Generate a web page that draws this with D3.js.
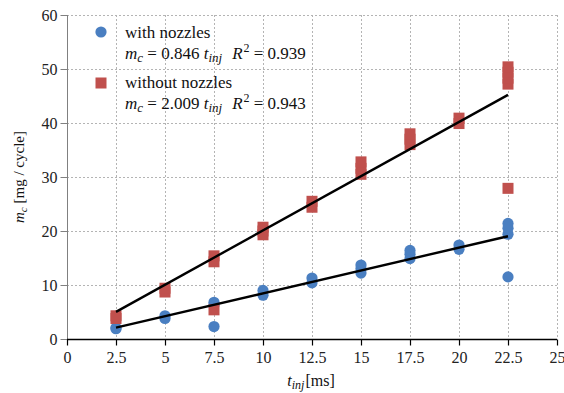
<!DOCTYPE html>
<html>
<head>
<meta charset="utf-8">
<script src="https://cdn.jsdelivr.net/npm/d3@7/dist/d3.min.js"></script>
<style>
  html, body { margin: 0; padding: 0; background: #fff; }
  svg { display: block; }
  svg text { font-family: "Liberation Serif", "Times New Roman", serif !important; }
</style>
</head>
<body>
<svg id="chart" width="564" height="393"></svg>
<script>
// Injection time [ms] vs. mass per cycle [mg/cycle]
const withNozzles = [
  [2.5, 1.9], [2.5, 2.1],
  [5, 3.8], [5, 4.3],
  [7.5, 6.3], [7.5, 6.8], [7.5, 2.3],
  [10, 8.1], [10, 9.0],
  [12.5, 10.4], [12.5, 11.3],
  [15, 12.2], [15, 13.0], [15, 13.7],
  [17.5, 14.9], [17.5, 15.7], [17.5, 16.4],
  [20, 16.6], [20, 17.4],
  [22.5, 19.4], [22.5, 20.5], [22.5, 21.4], [22.5, 11.5]
];
const withoutNozzles = [
  [2.5, 3.8], [2.5, 4.3],
  [5, 8.7], [5, 9.4],
  [7.5, 14.3], [7.5, 15.4], [7.5, 5.4],
  [10, 19.3], [10, 20.0], [10, 20.7],
  [12.5, 24.4], [12.5, 25.5],
  [15, 30.5], [15, 31.6], [15, 32.8],
  [17.5, 36.0], [17.5, 37.0], [17.5, 38.0],
  [20, 39.9], [20, 40.9],
  [22.5, 47.2], [22.5, 48.3], [22.5, 49.4], [22.5, 50.4], [22.5, 27.9]
];
const seriesNames = ["with nozzles", "without nozzles"];
const fitSlopes = [0.846, 2.009];
const fitR2 = ["0.939", "0.943"];
const fitRange = [2.5, 22.5];
const xTicks = [0, 2.5, 5, 7.5, 10, 12.5, 15, 17.5, 20, 22.5, 25];
const yTicks = [0, 10, 20, 30, 40, 50, 60];

const FONT = "Liberation Serif";
const colors = ["#4a7fc1", "#c0504d"];
const svg = d3.select("#chart");
const plotL = 67, plotR = 557, plotT = 15, plotB = 339;

const x = d3.scaleLinear().domain([0, 25]).range([plotL, plotR]);
const y = d3.scaleLinear().domain([0, 60]).range([plotB, plotT]);

// dotted grid
const grid = svg.append("g").attr("stroke", "#b4b4b4").attr("stroke-width", 1)
  .attr("stroke-dasharray", "2,2");
grid.selectAll("line.h").data(yTicks.filter(d => d > 0)).join("line")
  .attr("x1", plotL).attr("x2", plotR)
  .attr("y1", d => Math.round(y(d)) + 0.5).attr("y2", d => Math.round(y(d)) + 0.5);
grid.selectAll("line.v").data(xTicks.filter(d => d > 0)).join("line")
  .attr("y1", plotT).attr("y2", plotB)
  .attr("x1", d => Math.round(x(d)) + 0.5).attr("x2", d => Math.round(x(d)) + 0.5);

// y axis
const yAxis = svg.append("g").attr("transform", `translate(${plotL + 0.5},0)`)
  .call(d3.axisLeft(y).tickValues(yTicks).tickSize(7).tickPadding(3).tickFormat(d3.format("d")));
yAxis.attr("font-family", null);
yAxis.select(".domain").attr("stroke", "#808080").attr("d", `M0,${plotT}V${plotB}`);
yAxis.selectAll(".tick line").attr("stroke", "#808080");
yAxis.selectAll(".tick text").attr("font-size", 16).attr("fill", "#222")
  .style("font-family", FONT);

// x axis
const xAxis = svg.append("g").attr("transform", `translate(0,${plotB + 0.5})`)
  .call(d3.axisBottom(x).tickValues(xTicks).tickSize(6).tickPadding(6).tickFormat(d => String(d)));
xAxis.attr("font-family", null);
xAxis.select(".domain").attr("stroke", "#000").attr("stroke-width", 1.3).attr("d", `M${plotL},0H${plotR}`);
xAxis.selectAll(".tick line").attr("stroke", "#000").attr("stroke-width", 1.2);
xAxis.selectAll(".tick text").attr("font-size", 16).attr("fill", "#222")
  .style("font-family", FONT);

// markers
const r = 5.6, s = 11;
svg.append("g").selectAll("circle").data(withNozzles).join("circle")
  .attr("cx", d => x(d[0])).attr("cy", d => y(d[1])).attr("r", r)
  .attr("fill", colors[0]);
svg.append("g").selectAll("rect").data(withoutNozzles).join("rect")
  .attr("x", d => x(d[0]) - s / 2).attr("y", d => y(d[1]) - s / 2)
  .attr("width", s).attr("height", s).attr("fill", colors[1]);

// linear fits through the origin
const line = d3.line().x(d => x(d[0])).y(d => y(d[1]));
fitSlopes.forEach(k => {
  svg.append("path")
    .attr("d", line(fitRange.map(t => [t, k * t])))
    .attr("stroke", "#000").attr("stroke-width", 2.4).attr("fill", "none");
});

// legend
const legend = svg.append("g").attr("font-size", 17).attr("fill", "#111");
const legendRows = [38, 88];
legendRows.forEach((yy, i) => {
  if (i === 0) {
    legend.append("circle").attr("cx", 101).attr("cy", yy - 6).attr("r", r).attr("fill", colors[0]);
  } else {
    legend.append("rect").attr("x", 101 - s / 2).attr("y", yy - 5 - s / 2)
      .attr("width", s).attr("height", s).attr("fill", colors[1]);
  }
  legend.append("text").attr("x", 125).attr("y", yy).style("font-family", FONT).text(seriesNames[i]);
  const eq = legend.append("text").attr("x", 125).attr("y", yy + 21).style("font-family", FONT);
  eq.append("tspan").attr("font-style", "italic").text("m");
  eq.append("tspan").attr("font-style", "italic").attr("font-size", 13).attr("dy", 3).text("c");
  eq.append("tspan").attr("dy", -3).text(" = " + fitSlopes[i].toFixed(3) + " ");
  eq.append("tspan").attr("font-style", "italic").text("t");
  eq.append("tspan").attr("font-style", "italic").attr("font-size", 13).attr("dy", 3).text("inj");
  eq.append("tspan").attr("dy", -3).attr("dx", 10).attr("font-style", "italic").text("R");
  eq.append("tspan").attr("font-size", 12).attr("dy", -7).attr("dx", 1).text("2");
  eq.append("tspan").attr("dy", 7).text(" = " + fitR2[i]);
});

// axis titles
const xt = svg.append("text").attr("x", 311).attr("y", 386).attr("text-anchor", "middle")
  .attr("font-size", 16).attr("fill", "#111").style("font-family", FONT);
xt.append("tspan").attr("font-style", "italic").text("t");
xt.append("tspan").attr("font-style", "italic").attr("font-size", 12).attr("dy", 3).text("inj");
xt.append("tspan").attr("dy", -3).attr("dx", 1).text("[ms]");

const yt = svg.append("text").attr("transform", "translate(24,177) rotate(-90)")
  .attr("text-anchor", "middle").attr("font-size", 15).attr("fill", "#111")
  .style("font-family", FONT);
yt.append("tspan").attr("font-style", "italic").text("m");
yt.append("tspan").attr("font-style", "italic").attr("font-size", 11).attr("dy", 3).text("c");
yt.append("tspan").attr("dy", -3).text(" [mg / cycle]");
</script>
</body>
</html>
